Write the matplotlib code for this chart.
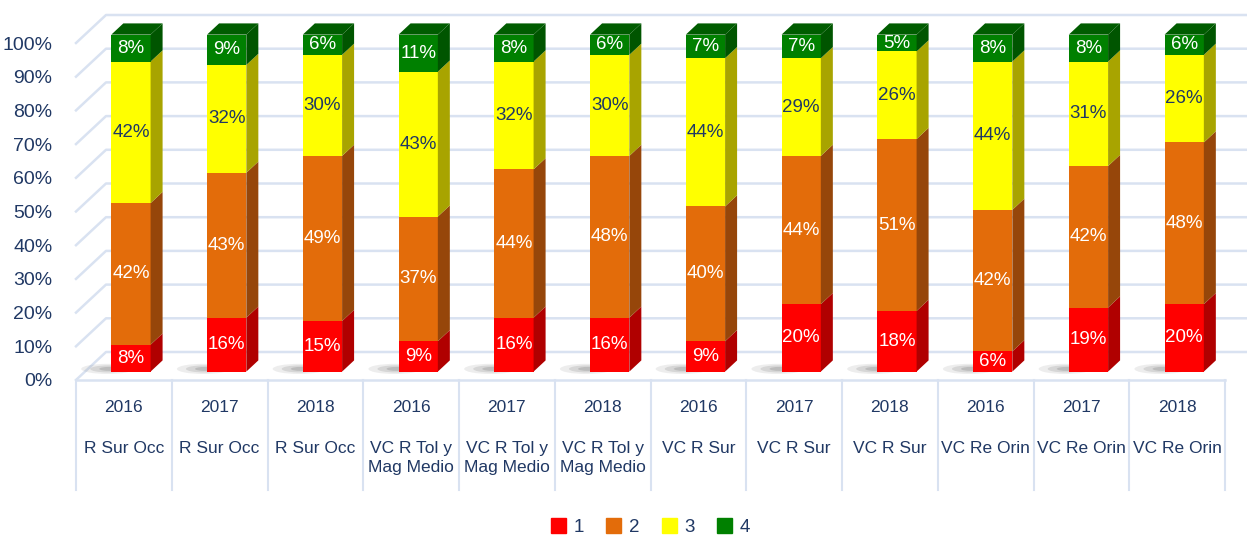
import matplotlib.pyplot as plt
import numpy as np
from matplotlib import font_manager
from matplotlib.patches import Polygon, Patch, Ellipse

# data
years = ['2016', '2017', '2018'] * 4
regions = ['R Sur Occ'] * 3 + ['VC R Tol y\nMag Medio'] * 3 + ['VC R Sur'] * 3 + ['VC Re Orin'] * 3
s1 = [8, 16, 15, 9, 16, 16, 9, 20, 18, 6, 19, 20]
s2 = [42, 43, 49, 37, 44, 48, 40, 44, 51, 42, 42, 48]
s3 = [42, 32, 30, 43, 32, 30, 44, 29, 26, 44, 31, 26]
s4 = [8, 9, 6, 11, 8, 6, 7, 7, 5, 8, 8, 6]
series_names = ['1', '2', '3', '4']

front_cols = ['#FF0000', '#E36C0A', '#FFFF00', '#008000']
side_cols = ['#B00000', '#96460A', '#A8A400', '#005500']
label_cols = ['white', 'white', '#203864', 'white']
txt_col = '#203864'
grid_col = '#D9E2F1'

names = {f.name for f in font_manager.fontManager.ttflist}
font = 'Liberation Sans Narrow' if 'Liberation Sans Narrow' in names else 'Liberation Sans'
plt.rcParams['font.family'] = [font, 'DejaVu Sans']

W, H = 1247, 538
fig = plt.figure(figsize=(W / 100, H / 100), dpi=100)
left, right, bottom, top = 76, 1225, 380, 43
ax = fig.add_axes([left / W, (H - bottom) / H, (right - left) / W, (bottom - top) / H])
n = len(s1)
ax.set_xlim(-0.5, n - 0.5)
ax.set_ylim(0, 100)

# oblique depth: per pixel of depth
px_x = (right - left) / n
px_y = (bottom - top) / 100
kx = 1 / px_x
ky = (28 / 30) / px_y
wall = 30
bar_front, bar_back = 9, 21

# back wall grid
for p in range(0, 101, 10):
    ax.plot([-0.5, -0.5 + wall * kx, n - 0.5 + wall * kx],
            [p, p + wall * ky, p + wall * ky],
            color=grid_col, lw=1.8, clip_on=False, zorder=0)

# category table below
ax.plot([-0.5, n - 0.5], [0, 0], color=grid_col, lw=1.8, clip_on=False, zorder=0)
for k in range(n + 1):
    ax.plot([k - 0.5, k - 0.5], [0, -110 / px_y], color=grid_col, lw=1.5, clip_on=False, zorder=0)
for i in range(n):
    ax.text(i, -28 / px_y, years[i], ha='center', va='center', fontsize=12.5, color=txt_col)
    ax.text(i, -61 / px_y, regions[i], ha='center', va='top', fontsize=12.5, color=txt_col,
            linespacing=1.35)

# bars with fake 3d faces
x = np.arange(n)
fx = bar_front * kx
fy = bar_front * ky
dx = (bar_back - bar_front) * kx
dy = (bar_back - bar_front) * ky
bw = 0.41
xs = x + fx - 0.02

for i in range(n):
    for sc, a in [(1.0, 0.12), (0.7, 0.18), (0.4, 0.25)]:
        ax.add_patch(Ellipse((xs[i] - bw / 2 - 0.04 * sc, fy + 0.8), 0.55 * sc, 3.0 * sc,
                             color='#707070', alpha=a, lw=0, zorder=1, clip_on=False))

base = np.zeros(n)
all_series = [s1, s2, s3, s4]
for j, vals in enumerate(all_series):
    vals = np.array(vals, dtype=float)
    bars = ax.bar(xs, vals, bottom=base + fy, width=bw, color=front_cols[j], zorder=3,
                  label=series_names[j], clip_on=False)
    for b, v in zip(bars, vals):
        x0, y0, w, h = b.get_x(), b.get_y(), b.get_width(), b.get_height()
        side = [(x0 + w, y0), (x0 + w + dx, y0 + dy), (x0 + w + dx, y0 + h + dy), (x0 + w, y0 + h)]
        ax.add_patch(Polygon(side, closed=True, color=side_cols[j], lw=0, zorder=3, clip_on=False))
        if j == len(all_series) - 1:
            topf = [(x0, y0 + h), (x0 + dx, y0 + h + dy), (x0 + w + dx, y0 + h + dy), (x0 + w, y0 + h)]
            ax.add_patch(Polygon(topf, closed=True, color='#005C00', lw=0, zorder=3, clip_on=False))
        ax.text(x0 + w / 2, y0 + h / 2, f'{int(v)}%', ha='center', va='center',
                fontsize=13.5, color=label_cols[j], zorder=5, clip_on=False)
    base = base + vals

ax.set_yticks(range(0, 101, 10))
ax.set_yticklabels([f'{p}%' for p in range(0, 101, 10)], fontsize=14, color=txt_col)
ax.tick_params(axis='y', length=0, pad=17)
ax.set_xticks([])
for s in ax.spines.values():
    s.set_visible(False)

handles = [Patch(color=c) for c in front_cols]
ax.legend(handles, series_names, loc='center', bbox_to_anchor=(0.5, -0.437), ncol=4,
          frameon=False, fontsize=13.5, handlelength=0.8, handleheight=0.8, handletextpad=0.4,
          columnspacing=1.2, labelcolor=txt_col)

fig.savefig('out.png', dpi=100)
